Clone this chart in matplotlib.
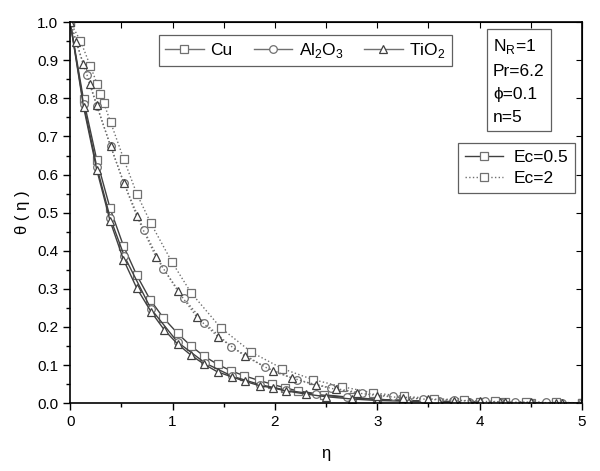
import matplotlib
matplotlib.use("Agg")
import matplotlib.pyplot as plt
from matplotlib.lines import Line2D
import numpy as np

plt.rcParams['font.family'] = ['Liberation Sans', 'DejaVu Sans']

# Ec = 0.5 (solid lines)
eta_cu_1 = [0, 0.13, 0.26, 0.39, 0.52, 0.65, 0.78, 0.91, 1.05, 1.18, 1.31, 1.44, 1.57,
            1.70, 1.84, 1.97, 2.10, 2.23, 2.48, 2.75, 3.0, 3.25, 3.5, 3.75, 4.0, 4.25,
            4.5, 4.75, 5.0]
theta_cu_1 = [1.0, 0.797, 0.638, 0.511, 0.413, 0.336, 0.272, 0.224, 0.183, 0.150, 0.123,
              0.102, 0.085, 0.072, 0.060, 0.050, 0.040, 0.032, 0.022, 0.015, 0.010, 0.007,
              0.005, 0.004, 0.003, 0.002, 0.001, 0.001, 0.0]

eta_al_1 = [0, 0.13, 0.26, 0.39, 0.53, 0.79, 1.05, 1.32, 1.58, 1.85, 2.11, 2.4, 2.7, 3.0,
            3.3, 3.6, 3.9, 4.2, 4.5, 4.8, 5.0]
theta_al_1 = [1.0, 0.785, 0.620, 0.487, 0.385, 0.247, 0.160, 0.105, 0.071, 0.049, 0.034,
              0.023, 0.015, 0.010, 0.007, 0.005, 0.003, 0.002, 0.001, 0.001, 0.0]

eta_ti_1 = [0, 0.13, 0.26, 0.39, 0.52, 0.65, 0.79, 0.92, 1.05, 1.18, 1.31, 1.44, 1.58,
            1.71, 1.85, 1.98, 2.11, 2.3, 2.5, 2.75, 3.0, 3.3, 3.6, 3.9, 4.2, 4.5, 4.8, 5.0]
theta_ti_1 = [1.0, 0.778, 0.612, 0.478, 0.377, 0.302, 0.240, 0.192, 0.155, 0.126, 0.102,
              0.082, 0.069, 0.057, 0.046, 0.040, 0.032, 0.024, 0.017, 0.011, 0.007, 0.005,
              0.003, 0.002, 0.002, 0.001, 0.001, 0.0]

# Ec = 2 (dotted lines)
eta_cu_2 = [0, 0.10, 0.195, 0.264, 0.293, 0.329, 0.394, 0.524, 0.65, 0.788, 0.993, 1.18,
            1.47, 1.77, 2.07, 2.37, 2.66, 2.96, 3.26, 3.55, 3.85, 4.15, 4.45, 4.75, 5.0]
theta_cu_2 = [1.0, 0.951, 0.886, 0.837, 0.811, 0.787, 0.738, 0.640, 0.550, 0.472, 0.371,
              0.290, 0.198, 0.134, 0.091, 0.062, 0.043, 0.027, 0.018, 0.012, 0.008, 0.005,
              0.003, 0.002, 0.001]

eta_al_2 = [0, 0.16, 0.26, 0.394, 0.524, 0.72, 0.91, 1.11, 1.31, 1.575, 1.90, 2.22, 2.55,
            2.85, 3.15, 3.45, 3.75, 4.05, 4.35, 4.65, 5.0]
theta_al_2 = [1.0, 0.862, 0.780, 0.675, 0.578, 0.454, 0.353, 0.275, 0.211, 0.148, 0.095,
              0.060, 0.040, 0.027, 0.018, 0.012, 0.008, 0.005, 0.003, 0.002, 0.001]

eta_ti_2 = [0, 0.06, 0.127, 0.195, 0.26, 0.394, 0.524, 0.65, 0.837, 1.05, 1.24, 1.445,
            1.71, 1.98, 2.17, 2.4, 2.6, 2.8, 3.0, 3.25, 3.5, 3.75, 4.0, 4.25, 4.5, 4.75, 5.0]
theta_ti_2 = [1.0, 0.948, 0.891, 0.837, 0.782, 0.675, 0.578, 0.491, 0.384, 0.295, 0.225,
              0.174, 0.123, 0.084, 0.066, 0.048, 0.036, 0.027, 0.020, 0.014, 0.010, 0.007,
              0.005, 0.003, 0.002, 0.001, 0.001]

fig = plt.figure(figsize=(6.0, 4.71), dpi=100)
ax = fig.add_axes([0.117, 0.144, 0.853, 0.809])

light = '#707070'
dark = '#404040'
mk = dict(markersize=5.5, markerfacecolor='white', markeredgewidth=0.9)

ax.plot(eta_cu_1, theta_cu_1, '-', color=dark, lw=1.0, marker='s', markeredgecolor=light, **mk)
ax.plot(eta_al_1, theta_al_1, '-', color=dark, lw=1.0, marker='o', markeredgecolor=light, **mk)
ax.plot(eta_ti_1, theta_ti_1, '-', color=dark, lw=1.0, marker='^', markeredgecolor=dark, **mk)
ax.plot(eta_cu_2, theta_cu_2, ':', color=light, lw=1.0, marker='s', markeredgecolor=light, **mk)
ax.plot(eta_al_2, theta_al_2, ':', color=light, lw=1.0, marker='o', markeredgecolor=light, **mk)
ax.plot(eta_ti_2, theta_ti_2, ':', color=light, lw=1.0, marker='^', markeredgecolor=dark, **mk)

ax.set_xlim(0, 5)
ax.set_ylim(0, 1.0)
ax.set_xticks(np.arange(0, 6, 1))
ax.set_xticks(np.arange(0, 5.01, 0.5), minor=True)
ax.set_yticks(np.arange(0, 1.01, 0.1))
ax.set_yticks(np.arange(0, 1.01, 0.05), minor=True)
ax.set_yticklabels([f'{v:.1f}' for v in np.arange(0, 1.01, 0.1)])
ax.tick_params(which='major', direction='out', length=5, width=1.0, labelsize=11)
ax.tick_params(which='minor', direction='out', length=3, width=1.0)
for s in ax.spines.values():
    s.set_linewidth(1.2)

# top and right ticks point inward
top = ax.secondary_xaxis('top')
top.set_xticks(np.arange(0, 5.01, 0.5))
top.tick_params(direction='in', length=4, labeltop=False)
right = ax.secondary_yaxis('right')
right.set_yticks(np.arange(0, 1.01, 0.1))
right.tick_params(direction='in', length=4, labelright=False)

ax.set_xlabel('η', fontsize=12, labelpad=12)
ax.set_ylabel('θ ( η )', fontsize=12, labelpad=5)

h1 = [Line2D([], [], color=light, lw=1.0, marker='s', markeredgecolor=light, **mk),
      Line2D([], [], color=light, lw=1.0, marker='o', markeredgecolor=light, **mk),
      Line2D([], [], color=light, lw=1.0, marker='^', markeredgecolor=dark, **mk)]
leg1 = ax.legend(h1, ['Cu', 'Al$_\\mathregular{2}$O$_\\mathregular{3}$', 'TiO$_\\mathregular{2}$'],
                 ncol=3, loc='upper left', bbox_to_anchor=(0.174, 0.966), fontsize=12.5,
                 frameon=True, fancybox=False, edgecolor='#606060', framealpha=1,
                 handlelength=2.2, handletextpad=0.4, columnspacing=1.2, borderpad=0.35,
                 borderaxespad=0)
leg1.get_frame().set_linewidth(0.9)
ax.add_artist(leg1)

h2 = [Line2D([], [], color=dark, lw=1.0, ls='-', marker='s', markeredgecolor=light, **mk),
      Line2D([], [], color=light, lw=1.0, ls=':', marker='s', markeredgecolor=light, **mk)]
leg2 = ax.legend(h2, ['Ec=0.5', 'Ec=2'], loc='upper left', bbox_to_anchor=(0.758, 0.682),
                 fontsize=12.5, frameon=True, fancybox=False, edgecolor='#606060',
                 framealpha=1, handlelength=2.2, handletextpad=0.6, borderpad=0.4,
                 labelspacing=0.3, borderaxespad=0)
leg2.get_frame().set_linewidth(0.9)

ax.text(0.826, 0.962, 'N$_\\mathregular{R}$=1\nPr=6.2\nϕ=0.1\nn=5', transform=ax.transAxes,
        fontsize=12.5, va='top', ha='left', linespacing=1.68,
        bbox=dict(boxstyle='square,pad=0.35', facecolor='white', edgecolor='#606060', lw=0.9))

fig.savefig('out.png', dpi=100)
